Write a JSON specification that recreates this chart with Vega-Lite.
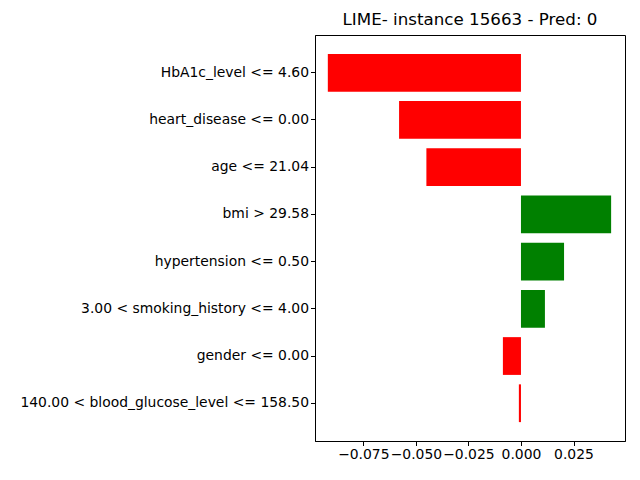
{
"$schema":"https://vega.github.io/schema/vega-lite/v6.json",
"autosize":{"type":"none"},
"padding":{"left":315,"top":35,"right":15,"bottom":39},
"width":310,"height":406,
"title":{"text":"LIME- instance 15663 - Pred: 0","font":"DejaVu Sans","fontSize":16.7,"fontWeight":"normal","offset":6},
"config":{"view":{"stroke":"black"},"axis":{"labelFont":"DejaVu Sans","labelFontSize":13.9,"labelColor":"black","tickColor":"black","domainColor":"black","grid":false,"tickSize":4.5}},
"data":{"values":[
{"f":"HbA1c_level <= 4.60","v":-0.0919},
{"f":"heart_disease <= 0.00","v":-0.058},
{"f":"age <= 21.04","v":-0.045},
{"f":"bmi > 29.58","v":0.0429},
{"f":"hypertension <= 0.50","v":0.0205},
{"f":"3.00 < smoking_history <= 4.00","v":0.0114},
{"f":"gender <= 0.00","v":-0.0086},
{"f":"140.00 < blood_glucose_level <= 158.50","v":-0.001}
]},
"mark":{"type":"bar"},
"encoding":{
"y":{"field":"f","type":"nominal","sort":null,"title":null,"scale":{"paddingInner":0.2,"paddingOuter":0.4},"axis":{"labelLimit":400}},
"x":{"field":"v","type":"quantitative","title":null,"scale":{"domain":[-0.098,0.0495],"nice":false,"zero":false},"axis":{"values":[-0.075,-0.05,-0.025,0,0.025],"format":".3f"}},
"color":{"condition":{"test":"datum.v>0","value":"green"},"value":"red"}
}
}
